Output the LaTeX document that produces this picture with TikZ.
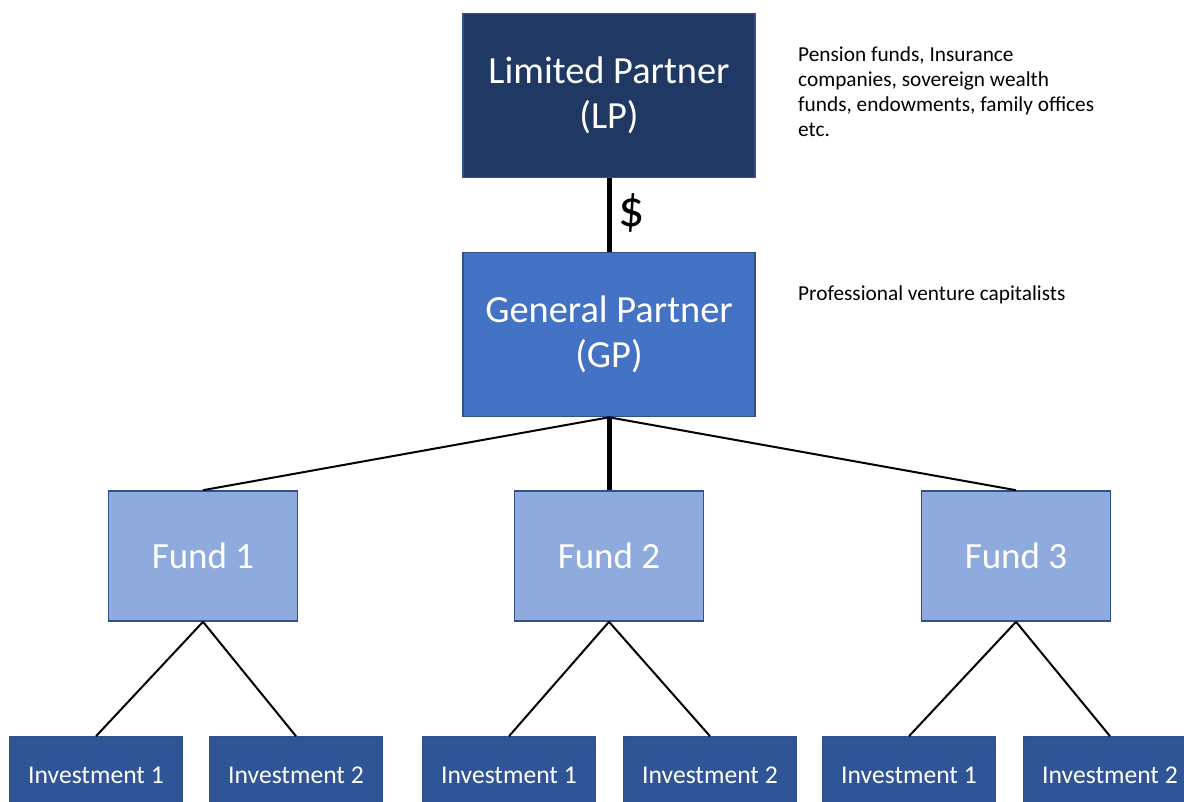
\documentclass[tikz,border=0pt]{standalone}
\usepackage{fontspec}
\setmainfont{Carlito}
\usetikzlibrary{positioning}
\definecolor{lpnavy}{HTML}{203864}
\definecolor{gpblue}{HTML}{4472C4}
\definecolor{fundblue}{HTML}{8FAADC}
\definecolor{invblue}{HTML}{2F5597}
\definecolor{edgeblue}{HTML}{2F528F}

\tikzset{
  box/.style={draw=edgeblue, line width=1.6pt, text=white, align=center, inner sep=0pt},
  topbox/.style={box, minimum width=292pt, minimum height=164pt, font=\fontsize{38.4}{45}\selectfont},
  fundbox/.style={box, fill=fundblue, minimum width=189pt, minimum height=130pt, font=\fontsize{37}{45}\selectfont},
  invbox/.style={box, fill=invblue, minimum width=172pt, minimum height=76pt, font=\fontsize{25.6}{30}\selectfont},
  note/.style={align=left, inner sep=0pt, font=\fontsize{21.3}{25}\selectfont},
  thin link/.style={line width=2pt},
  thick link/.style={line width=5pt}
}

\begin{document}
\begin{tikzpicture}[x=1pt, y=-1pt]
  \useasboundingbox (0,0) rectangle (1184,802);
  % partners
  \node[topbox, fill=lpnavy] (lp) at (609,95.5) {Limited Partner\\(LP)};
  \node[topbox, fill=gpblue] (gp) at (609,334.5) {General Partner\\(GP)};
  \draw[thick link] (lp.south) -- (gp.north);
  \node[anchor=west, font=\fontsize{52}{52}\selectfont] (usd) at (615,213) {\$};
  % notes
  \node[note, anchor=north west] (lpnote) at (798,47) {Pension funds, Insurance\\companies, sovereign wealth\\funds, endowments, family offices\\etc.};
  \node[note, anchor=west] (gpnote) at (798,295) {Professional venture capitalists};
  % funds and investments
  \foreach \x/\a/\b/\n in {203/96/296/1, 609/509/710/2, 1016/909/1110/3}
  {
    \node[fundbox] (f\n) at (\x,556) {Fund \n};
    \node[invbox] (i\n a) at (\a,775) {Investment 1};
    \node[invbox] (i\n b) at (\b,775) {Investment 2};
    \draw[thin link] (f\n.south) -- (i\n a.north);
    \draw[thin link] (f\n.south) -- (i\n b.north);
  }
  \draw[thin link] (gp.south) -- (f1.north);
  \draw[thick link] (gp.south) -- (f2.north);
  \draw[thin link] (gp.south) -- (f3.north);
\end{tikzpicture}
\end{document}
